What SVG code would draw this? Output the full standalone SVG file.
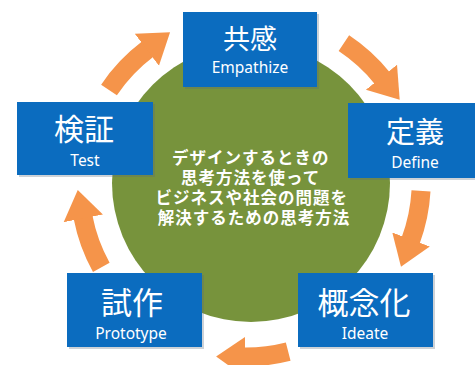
<svg xmlns="http://www.w3.org/2000/svg" width="475" height="365" viewBox="0 0 475 365">
  <defs>
    <style>
      .box { fill: #0B6CBF; }
      .shadow { fill: #5a6b7a; opacity: 0.3; }
      .jp { font-family: "Noto Sans CJK JP", "Noto Sans", sans-serif; fill: #ffffff; text-anchor: middle; }
      .big { font-size: 29px; }
      .en { font-family: "Noto Sans", "Open Sans", sans-serif; font-size: 15.5px; fill: #ffffff; text-anchor: middle; }
      .center { font-family: "Noto Sans CJK JP", sans-serif; font-size: 16.5px; letter-spacing: 1px; font-weight: bold; fill: #ffffff; text-anchor: middle; }
      .arrow { fill: none; stroke: #F5944A; stroke-width: 19; marker-end: url(#head); }
    </style>
    <marker id="head" viewBox="0 -21 30 42" refX="1" refY="0" markerWidth="30" markerHeight="42" markerUnits="userSpaceOnUse" orient="auto">
      <path d="M0,-20 L29,0 L0,20 Z" fill="#F5944A"/>
    </marker>
  </defs>

  <!-- central circle -->
  <circle cx="251" cy="183" r="139" fill="#77933C"/>

  <!-- cycle arrows -->
  <g id="connectors">
    <path class="arrow" d="M109,90 A170,170 0 0 1 147.7,49.2"/>
    <path class="arrow" d="M343.9,43.2 A170,170 0 0 1 382.1,78"/>
    <path class="arrow" d="M421,190.9 A170,170 0 0 1 410.7,240.4"/>
    <path class="arrow" d="M288.2,351.6 A172,172 0 0 1 244.1,356.9"/>
    <path class="arrow" d="M101.3,267.4 A170,170 0 0 1 83.1,217.4"/>
  </g>

  <g id="center-text">
    <text class="center">
      <tspan x="253" y="164">デザインするときの</tspan>
      <tspan x="253" y="184">思考方法を使って</tspan>
      <tspan x="254" y="204">ビジネスや社会の問題を</tspan>
      <tspan x="254" y="224">解決するための思考方法</tspan>
    </text>
  </g>

  <g id="empathize">
    <rect class="shadow" x="185" y="14" width="134" height="75"/>
    <rect class="box" x="183" y="12" width="134" height="75"/>
    <text class="jp big" x="250" y="49" style="font-size:27px">共感</text>
    <text class="en" x="250" y="73">Empathize</text>
  </g>

  <g id="define">
    <rect class="shadow" x="350" y="105" width="134" height="75"/>
    <rect class="box" x="348" y="103" width="134" height="75"/>
    <text class="jp big" x="415" y="143">定義</text>
    <text class="en" x="415" y="168">Define</text>
  </g>

  <g id="ideate">
    <rect class="shadow" x="300" y="275" width="135" height="74"/>
    <rect class="box" x="298" y="273" width="135" height="74"/>
    <text class="jp big" x="364" y="314" style="font-size:31px">概念化</text>
    <text class="en" x="365" y="339">Ideate</text>
  </g>

  <g id="prototype">
    <rect class="shadow" x="69" y="275" width="135" height="74"/>
    <rect class="box" x="67" y="273" width="135" height="74"/>
    <text class="jp big" x="132" y="314" style="font-size:31px">試作</text>
    <text class="en" x="131" y="339">Prototype</text>
  </g>

  <g id="test">
    <rect class="shadow" x="19" y="104" width="136" height="73"/>
    <rect class="box" x="17" y="102" width="136" height="73"/>
    <text class="jp big" x="84" y="140" style="font-size:30px">検証</text>
    <text class="en" x="85" y="166">Test</text>
  </g>
</svg>
